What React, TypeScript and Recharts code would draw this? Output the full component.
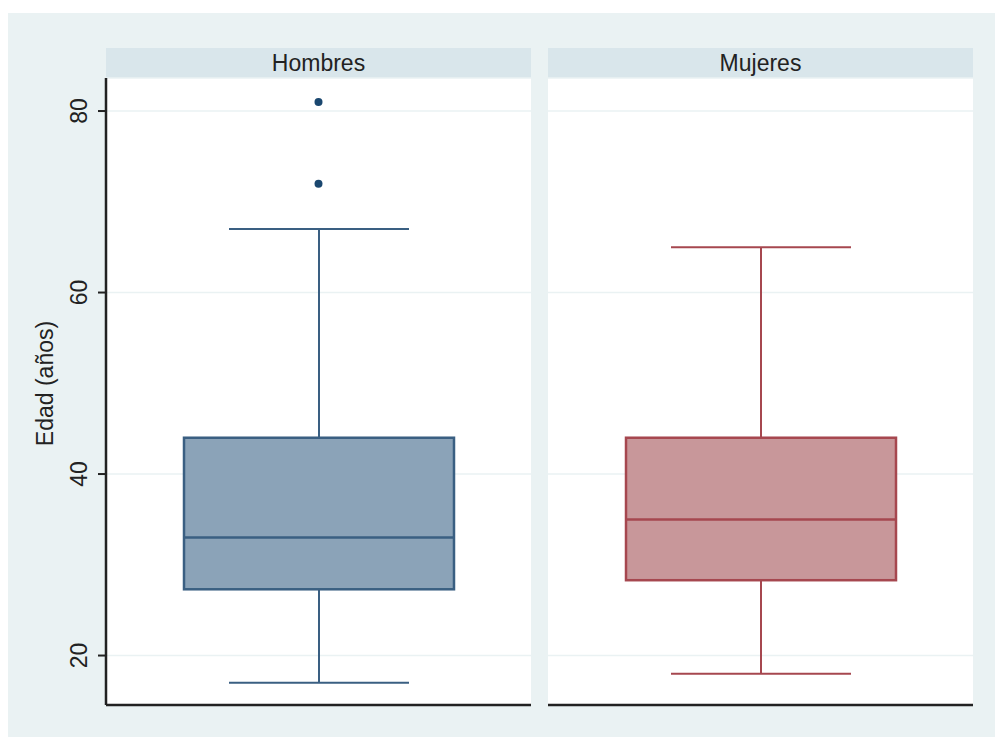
// @ts-nocheck
import React from 'react'
import { ComposedChart, Bar, Scatter, XAxis, YAxis, CartesianGrid } from 'recharts'

const groups = ['Hombres', 'Mujeres']
const lowerWhisker = [17, 18]
const q1 = [27.3, 28.3]
const median = [33, 35]
const q3 = [44, 44]
const upperWhisker = [67, 65]
const outliers = [[72, 81], []]
const yTicks = [20, 40, 60, 80]
const yDomain = [14.55, 83.64]

const FONT = '"Liberation Sans", Arial, sans-serif'
const BG = '#eaf2f3'
const STRIP = '#d9e6eb'
const FILLS = ['#8ba3b8', '#c8979a']
const STROKES = ['#3a5f82', '#a6474f']
const DOT = '#1a476f'

const rows = groups.map((g, i) => ({
  grp: g,
  lo: lowerWhisker[i],
  q1: q1[i],
  med: median[i],
  q3: q3[i],
  hi: upperWhisker[i],
}))

const outlierRows = groups.map((g, i) => outliers[i].map(v => ({ grp: g, v })))

function makeBoxShape(i) {
  return (p) => {
    const { x, y, width, height, payload } = p
    const top = Math.min(y, y + height)
    const h = Math.abs(height)
    // pixels per unit from the bar's own scaled geometry
    const ppu = h / (payload.q3 - payload.q1)
    const py = v => top + (payload.q3 - v) * ppu
    const cx = x + width / 2
    const cap = width / 3
    const stroke = STROKES[i]
    return (
      <g>
        <line x1={cx} x2={cx} y1={py(payload.hi)} y2={top} stroke={stroke} strokeWidth={2} />
        <line x1={cx} x2={cx} y1={top + h} y2={py(payload.lo)} stroke={stroke} strokeWidth={2} />
        <line x1={cx - cap} x2={cx + cap} y1={py(payload.hi)} y2={py(payload.hi)} stroke={stroke} strokeWidth={2} />
        <line x1={cx - cap} x2={cx + cap} y1={py(payload.lo)} y2={py(payload.lo)} stroke={stroke} strokeWidth={2} />
        <rect x={x} y={top} width={width} height={h} fill={FILLS[i]} stroke={stroke} strokeWidth={2.5} />
        <line x1={x} x2={x + width} y1={py(payload.med)} y2={py(payload.med)} stroke={stroke} strokeWidth={2.5} />
      </g>
    )
  }
}

const YTick = ({ x, y, payload }) => (
  <text
    x={0}
    y={0}
    transform={`translate(${x - 17},${y}) rotate(-90)`}
    textAnchor="middle"
    dominantBaseline="central"
    fontSize={23}
    fontFamily={FONT}
    fill="#222"
  >
    {payload.value}
  </text>
)

const YTitle = ({ viewBox }) => (
  <text
    x={0}
    y={0}
    transform={`translate(45,${viewBox.y + viewBox.height / 2 - 8}) rotate(-90)`}
    textAnchor="middle"
    dominantBaseline="central"
    fontSize={23}
    fontFamily={FONT}
    fill="#222"
  >
    Edad (años)
  </text>
)

function Panel({ i, left, width, withAxis }) {
  const stripLeft = withAxis ? 106 : 0
  const plotW = withAxis ? width - 106 : width
  return (
    <div style={{ position: 'absolute', left, top: 0, width, height: 737 }}>
      <div
        style={{
          position: 'absolute',
          left: stripLeft,
          top: 48,
          width: plotW,
          height: 30,
          background: STRIP,
          fontFamily: FONT,
          fontSize: 23,
          color: '#222',
          textAlign: 'center',
          lineHeight: '30px',
        }}
      >
        {groups[i]}
      </div>
      <div style={{ position: 'absolute', left: 0, top: 0 }}>
        <ComposedChart
          width={width}
          height={737}
          data={[rows[i]]}
          margin={{ top: 78, right: 0, bottom: 30, left: withAxis ? 8 : 0 }}
        >
          <CartesianGrid fill="#fff" vertical={false} stroke={BG} strokeWidth={1.5} />
          <XAxis
            dataKey="grp"
            type="category"
            allowDuplicatedCategory={false}
            height={2}
            tick={false}
            tickLine={false}
            axisLine={{ stroke: '#222', strokeWidth: 2.5 }}
          />
          <YAxis
            type="number"
            domain={yDomain}
            ticks={yTicks}
            allowDataOverflow
            hide={!withAxis}
            width={98}
            tickSize={8}
            tickLine={{ stroke: '#222', strokeWidth: 2 }}
            axisLine={{ stroke: '#222', strokeWidth: 2.5 }}
            tick={<YTick />}
            label={<YTitle />}
          />
          <Bar
            dataKey={d => [d.q1, d.q3]}
            barSize={270}
            shape={makeBoxShape(i)}
            isAnimationActive={false}
          />
          {outlierRows[i].length > 0 && (
            <Scatter data={outlierRows[i]} dataKey="v" fill={DOT} shape={p => <circle cx={p.cx} cy={p.cy} r={4} fill={DOT} />} isAnimationActive={false} />
          )}
        </ComposedChart>
      </div>
    </div>
  )
}

export default function App() {
  return (
    <div style={{ position: 'absolute', left: 0, top: 0, width: 995, height: 737, background: '#fff', overflow: 'hidden' }}>
      <div style={{ position: 'absolute', left: 8, top: 13, width: 987, height: 724, background: BG }} />
      <Panel i={0} left={0} width={531} withAxis />
      <Panel i={1} left={548} width={425} withAxis={false} />
    </div>
  )
}
